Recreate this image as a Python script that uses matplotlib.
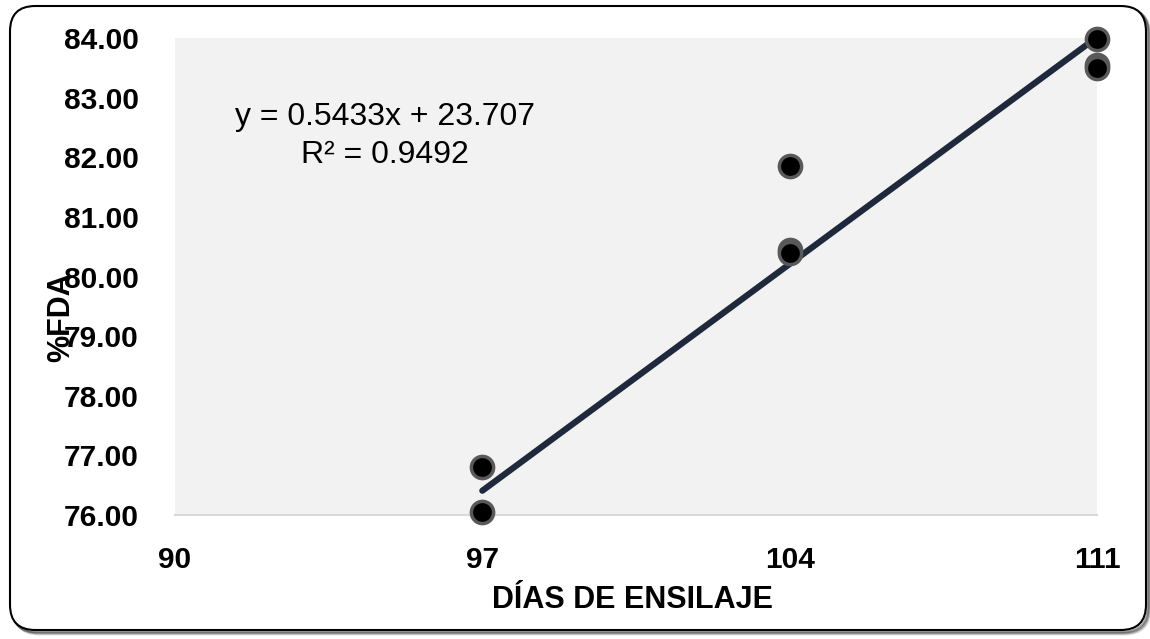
import matplotlib
matplotlib.use("Agg")
import matplotlib.pyplot as plt
from matplotlib.patches import FancyBboxPatch
import numpy as np

plt.rcParams['font.family'] = ['Liberation Sans', 'DejaVu Sans']

# Observations: ensilage days vs. %FDA
dias = [97, 97, 104, 104, 104, 111, 111, 111]
fda = [76.80, 76.05, 81.85, 80.45, 80.40, 83.98, 83.55, 83.50]

# Linear trend line
pendiente = 0.5433
intercepto = 23.707
r2 = 0.9492

x_ticks = [90, 97, 104, 111]
y_ticks = [76, 77, 78, 79, 80, 81, 82, 83, 84]

W, H = 1150, 639
fig = plt.figure(figsize=(W / 100, H / 100), dpi=100)
fig.patch.set_facecolor('white')

# Rounded frame with a soft shadow
for off, alpha in [(4, 0.15), (3, 0.25), (2, 0.35)]:
    shadow = FancyBboxPatch((10 / W + off / W, 9 / H - off / H), 1136 / W, 624 / H,
                            boxstyle="round,pad=0,rounding_size=0.022",
                            transform=fig.transFigure, facecolor='none',
                            edgecolor=(0, 0, 0, alpha), linewidth=2.0,
                            mutation_aspect=W / H, zorder=0)
    fig.patches.append(shadow)
frame = FancyBboxPatch((10 / W, 9 / H), 1136 / W, 624 / H,
                       boxstyle="round,pad=0,rounding_size=0.022",
                       transform=fig.transFigure, facecolor='white',
                       edgecolor='black', linewidth=1.5,
                       mutation_aspect=W / H, zorder=1)
fig.patches.append(frame)

ax = fig.add_axes([175 / W, 1 - 515 / H, (1097 - 175) / W, (515 - 38) / H])
ax.set_facecolor('#F2F2F2')
ax.set_zorder(2)

ax.set_xlim(90, 111)
ax.set_ylim(76, 84)
ax.set_xticks(x_ticks)
ax.set_xticklabels([str(t) for t in x_ticks])
ax.set_yticks(y_ticks)
ax.set_yticklabels([f"{t:.2f}" for t in y_ticks])

for s in ['top', 'right', 'left']:
    ax.spines[s].set_visible(False)
ax.spines['bottom'].set_color('#D9D9D9')
ax.spines['bottom'].set_linewidth(1.5)

ax.tick_params(axis='both', length=0, labelsize=21.5)
ax.tick_params(axis='y', pad=26)
ax.tick_params(axis='x', pad=22)
for lbl in ax.get_xticklabels() + ax.get_yticklabels():
    lbl.set_fontweight('bold')

# Trend line from the fitted equation
xl = np.array([97, 111])
ax.plot(xl, pendiente * xl + intercepto, color='#1E293B', linewidth=4.5,
        solid_capstyle='round', zorder=3)

ax.plot(dias, fda, linestyle='none', marker='o', markersize=16,
        markerfacecolor='black', markeredgecolor='#595959',
        markeredgewidth=2.5, zorder=4, clip_on=False)

ax.text(385 / W, 1 - 117 / H, f"y = {pendiente}x + {intercepto}",
        transform=fig.transFigure, ha='center', va='center', fontsize=23)
ax.text(385 / W, 1 - 155 / H, f"R² = {r2}",
        transform=fig.transFigure, ha='center', va='center', fontsize=23)

fig.text(633 / W, 1 - 600 / H, "DÍAS DE ENSILAJE", ha='center', va='center',
         fontsize=22, fontweight='bold')
fig.text(61 / W, 1 - 317 / H, "%FDA", ha='center', va='center', rotation=90,
         fontsize=22, fontweight='bold', zorder=5)

fig.savefig('out.png', dpi=100)
